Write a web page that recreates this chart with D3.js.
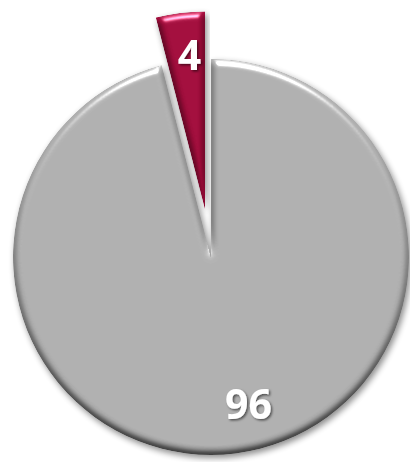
<!DOCTYPE html>
<html><head><meta charset="utf-8">
<script src="https://cdn.jsdelivr.net/npm/d3@7"></script>
<style>html,body{margin:0;padding:0;background:#fff;}svg{display:block;}</style>
</head><body>
<div id="chart"></div>
<script>
// ---- data ----
const categories = ["Other", "Highlighted"];
const values = [96, 4];
const labels = ["96", "4"];
const colors = ["#adadad", "#a00c3b"];

// ---- layout ----
const W = 410, H = 462;
const cx = 211, cy = 257, R = 198;
const explode = [0, 48];
const labelRadius = [148, 155];
const labelNudge = [[19, 0], [4, 0]];

const svg = d3.select("#chart").append("svg").attr("width", W).attr("height", H);
const defs = svg.append("defs");

// bevel + shadow filter
const f = defs.append("filter").attr("id", "bevel")
  .attr("x", "-10%").attr("y", "-10%").attr("width", "120%").attr("height", "120%")
  .attr("color-interpolation-filters", "sRGB");
f.append("feGaussianBlur").attr("in", "SourceAlpha").attr("stdDeviation", 3.5).attr("result", "blur");
const dl = f.append("feDiffuseLighting").attr("in", "blur").attr("surfaceScale", 4)
  .attr("diffuseConstant", 1.155).attr("lighting-color", "#fff").attr("result", "diff");
dl.append("feDistantLight").attr("azimuth", -90).attr("elevation", 60);
f.append("feComposite").attr("in", "SourceGraphic").attr("in2", "diff")
  .attr("operator", "arithmetic").attr("k1", 1).attr("k2", 0).attr("k3", 0).attr("k4", 0).attr("result", "lit");
const sl = f.append("feSpecularLighting").attr("in", "blur").attr("surfaceScale", 4)
  .attr("specularConstant", 1).attr("specularExponent", 40).attr("lighting-color", "#fff").attr("result", "spec");
sl.append("feDistantLight").attr("azimuth", -90).attr("elevation", 40);
f.append("feComposite").attr("in", "spec").attr("in2", "SourceAlpha").attr("operator", "in").attr("result", "specIn");
f.append("feComposite").attr("in", "lit").attr("in2", "specIn")
  .attr("operator", "arithmetic").attr("k1", 0).attr("k2", 1).attr("k3", 0.8).attr("k4", 0).attr("result", "bev");
f.append("feComposite").attr("in", "bev").attr("in2", "SourceAlpha").attr("operator", "in").attr("result", "bevIn");
f.append("feGaussianBlur").attr("in", "SourceAlpha").attr("stdDeviation", 3).attr("result", "sb");
f.append("feOffset").attr("in", "sb").attr("dx", 2).attr("dy", 3).attr("result", "so");
f.append("feComponentTransfer").attr("in", "so").attr("result", "sh")
  .append("feFuncA").attr("type", "linear").attr("slope", 0.45);
const fm = f.append("feMerge");
fm.append("feMergeNode").attr("in", "sh");
fm.append("feMergeNode").attr("in", "bevIn");

// text shadow
const tf = defs.append("filter").attr("id", "tshadow").attr("x", "-20%").attr("y", "-20%").attr("width", "150%").attr("height", "150%");
tf.append("feDropShadow").attr("dx", 1.5).attr("dy", 1.5).attr("stdDeviation", 1.2)
  .attr("flood-color", "#000").attr("flood-opacity", 0.55);

const pie = d3.pie().sort(null).value(d => d)(values);
const arc = d3.arc().innerRadius(0).outerRadius(R);

const g = svg.append("g").attr("transform", `translate(${cx},${cy})`);

const slices = g.selectAll("g.slice").data(pie).join("g").attr("class", "slice")
  .attr("transform", (d, i) => {
    const a = (d.startAngle + d.endAngle) / 2;
    return `translate(${Math.sin(a) * explode[i]},${-Math.cos(a) * explode[i]})`;
  });

slices.append("path")
  .attr("d", arc)
  .attr("fill", (d, i) => colors[i])
  .attr("filter", "url(#bevel)");

slices.append("text")
  .attr("transform", (d, i) => {
    const la = d3.arc().innerRadius(labelRadius[i]).outerRadius(labelRadius[i]);
    const c = la.centroid(d);
    return `translate(${c[0] + labelNudge[i][0]},${c[1] + labelNudge[i][1]})`;
  })
  .attr("text-anchor", "middle")
  .attr("dy", "0.36em")
  .attr("font-family", "'Open Sans', 'DejaVu Sans', sans-serif")
  .attr("font-weight", 700)
  .attr("font-size", 41)
  .attr("fill", "#fff")
  .attr("filter", "url(#tshadow)")
  .text((d, i) => labels[i]);
</script>
</body></html>
